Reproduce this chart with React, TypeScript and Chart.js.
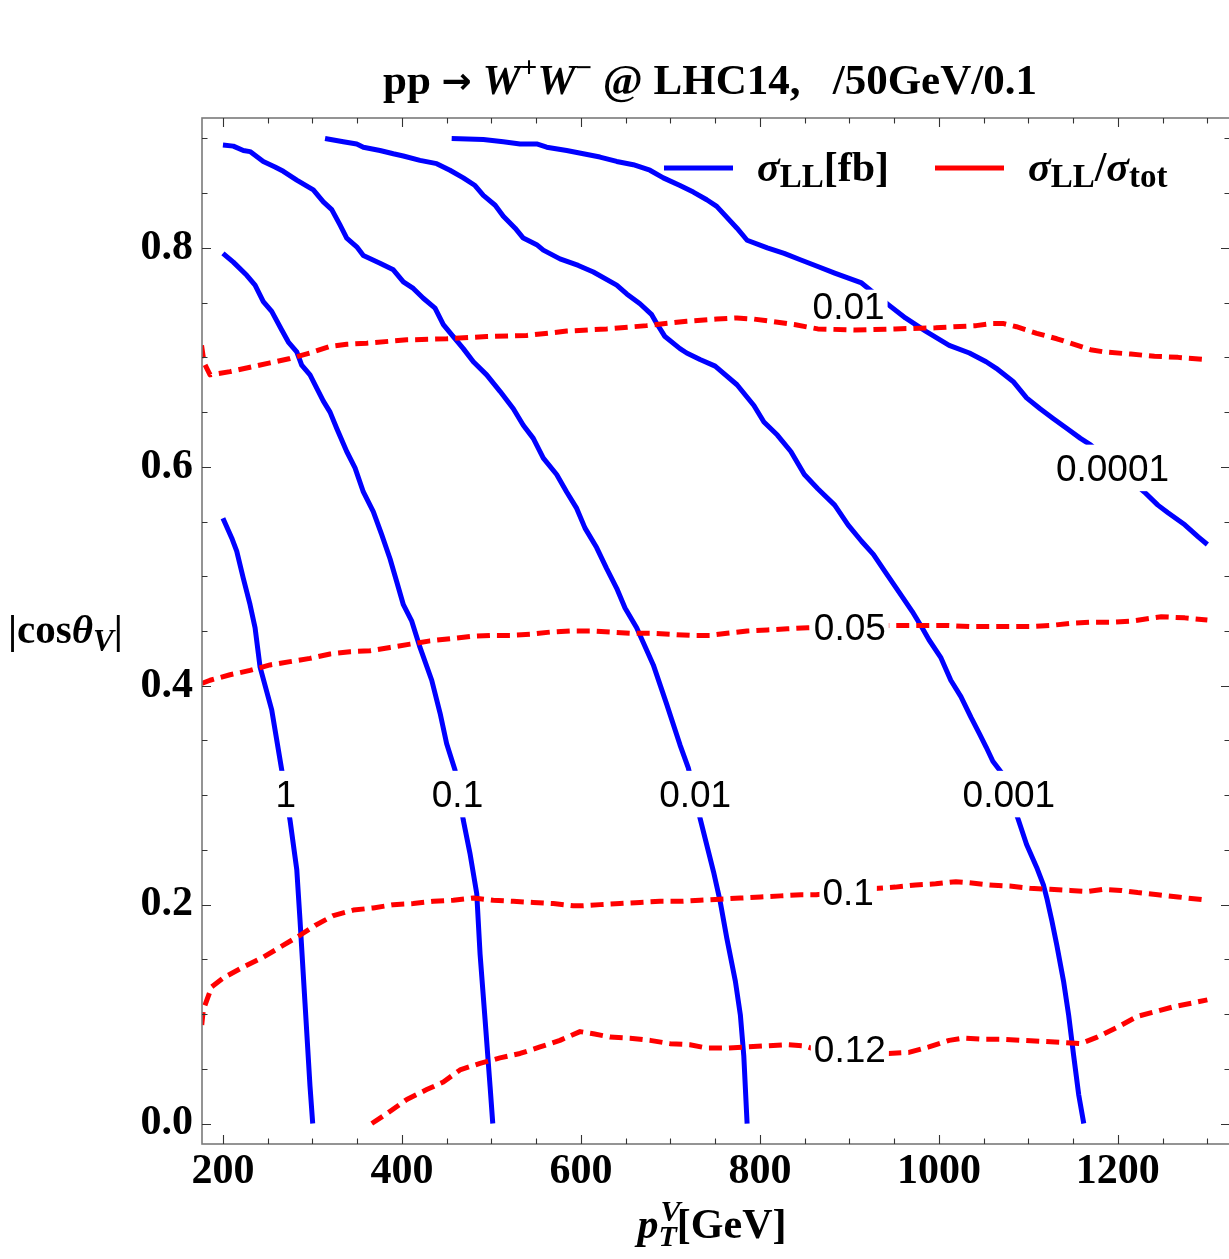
import { useEffect, useRef } from "react";
import { Chart, registerables } from "chart.js";

Chart.register(...registerables);

const SERIF = '"Liberation Serif", "Times New Roman", serif';
const SANS = '"Liberation Sans", Arial, sans-serif';
const ARROW_FONT = '"DejaVu Sans", sans-serif';
const BLUE = "#0000ff";
const RED = "#ff0000";

const CANVAS_W = 1240;
const CANVAS_H = 1259;

// Axis ranges (pT in GeV, |cos theta|)
const PT_MIN = 176.6;
const PT_MAX = 1325.3;
const COS_MIN = -0.0187;
const COS_MAX = 0.9187;

// Tick positions
const PT_MAJOR = [200, 400, 600, 800, 1000, 1200];
const PT_MINOR = [250, 300, 350, 450, 500, 550, 650, 700, 750, 850, 900, 950, 1050, 1100, 1150, 1250, 1300];
const COS_MAJOR = [0, 0.2, 0.4, 0.6, 0.8];
const COS_MINOR = [0.05, 0.1, 0.15, 0.25, 0.3, 0.35, 0.45, 0.5, 0.55, 0.65, 0.7, 0.75, 0.85, 0.9];

// sigma_LL contours [fb]
const LL1_PT = [200, 209.8, 215.4, 222.8, 230.3, 235.9, 241.5, 254.5, 265.7, 275.0, 282.5, 286.1, 291.7, 297.3, 300.3];
const LL1_COS = [0.553, 0.535, 0.523, 0.498, 0.474, 0.453, 0.417, 0.378, 0.323, 0.277, 0.232, 0.186, 0.110, 0.034, 0];

const LL01_PT = [200, 211.6, 226.6, 235.9, 245.1, 254.5, 265.7, 273.1, 282.5, 288.0, 297.3, 304.8, 312.2, 319.7, 327.2, 338.3, 347.6, 356.9, 368.0, 377.4, 386.7, 394.2, 401.6, 411.0, 420.2, 433.3, 442.6, 450.0, 459.3, 468.6, 476.0, 483.6, 487.3, 492.9, 498.5, 501.5];
const LL01_COS = [0.795, 0.787, 0.775, 0.766, 0.751, 0.742, 0.725, 0.714, 0.705, 0.693, 0.684, 0.672, 0.660, 0.650, 0.635, 0.614, 0.599, 0.577, 0.559, 0.538, 0.516, 0.495, 0.474, 0.459, 0.435, 0.405, 0.375, 0.347, 0.323, 0.277, 0.247, 0.210, 0.155, 0.095, 0.034, 0];

const LL001_PT = [200, 211.6, 222.8, 230.3, 245.1, 258.2, 267.5, 282.5, 301.0, 312.2, 321.6, 330.8, 338.3, 349.5, 356.9, 375.5, 390.4, 401.6, 412.7, 423.9, 437.0, 446.3, 457.4, 468.6, 479.8, 494.7, 509.6, 524.5, 535.6, 546.8, 558.0, 572.9, 584.1, 595.3, 604.6, 617.7, 628.8, 640.0, 649.3, 662.3, 680.9, 695.9, 710.7, 720.0, 733.1, 748.2, 755.6, 763.1, 772.6, 778.2, 782.0, 785.7];
const LL001_COS = [0.894, 0.893, 0.889, 0.888, 0.879, 0.874, 0.870, 0.862, 0.853, 0.842, 0.835, 0.821, 0.809, 0.801, 0.793, 0.786, 0.780, 0.769, 0.763, 0.754, 0.745, 0.730, 0.719, 0.708, 0.696, 0.684, 0.669, 0.653, 0.638, 0.626, 0.608, 0.593, 0.577, 0.562, 0.544, 0.526, 0.507, 0.489, 0.471, 0.453, 0.419, 0.383, 0.346, 0.325, 0.279, 0.230, 0.203, 0.169, 0.130, 0.099, 0.062, 0];

const LL0001_PT = [314.1, 334.5, 349.5, 356.9, 375.5, 390.4, 401.6, 420.2, 438.9, 453.7, 468.6, 481.7, 491.0, 504.2, 513.3, 526.5, 535.6, 550.6, 558.0, 576.6, 597.1, 613.9, 640.0, 651.2, 666.0, 679.1, 684.7, 693.9, 710.7, 718.2, 733.1, 750.0, 774.4, 793.3, 804.5, 819.5, 834.6, 849.7, 864.7, 883.6, 898.5, 913.6, 926.8, 940.0, 955.1, 970.1, 981.3, 988.9, 1002.0, 1013.3, 1024.6, 1035.9, 1045.4, 1052.8, 1060.3, 1069.7, 1088.6, 1098.0, 1109.3, 1116.8, 1120.6, 1126.3, 1131.8, 1139.3, 1145.0, 1150.6, 1156.3, 1161.9];
const LL0001_COS = [0.900, 0.897, 0.895, 0.892, 0.889, 0.886, 0.884, 0.880, 0.877, 0.871, 0.864, 0.857, 0.848, 0.839, 0.829, 0.818, 0.809, 0.803, 0.798, 0.790, 0.784, 0.778, 0.766, 0.758, 0.749, 0.739, 0.731, 0.719, 0.708, 0.704, 0.698, 0.692, 0.675, 0.656, 0.641, 0.629, 0.614, 0.593, 0.580, 0.565, 0.547, 0.532, 0.520, 0.504, 0.486, 0.468, 0.453, 0.442, 0.426, 0.405, 0.390, 0.371, 0.356, 0.344, 0.331, 0.321, 0.278, 0.255, 0.234, 0.218, 0.206, 0.185, 0.163, 0.130, 0.099, 0.062, 0.026, 0];

const LL00001_PT = [455.6, 491.0, 513.3, 532.0, 550.6, 561.8, 584.1, 602.7, 621.3, 640.0, 658.5, 677.1, 692.1, 710.7, 725.6, 740.6, 751.8, 774.4, 785.7, 808.3, 827.1, 845.9, 864.7, 883.6, 913.6, 943.8, 962.6, 985.1, 1011.5, 1034.1, 1052.8, 1064.1, 1082.9, 1098.0, 1113.1, 1128.0, 1143.1, 1158.2, 1169.5, 1229.6, 1244.7, 1256.0, 1274.8, 1289.8, 1300];
const LL00001_COS = [0.900, 0.899, 0.897, 0.895, 0.895, 0.892, 0.889, 0.886, 0.883, 0.879, 0.876, 0.871, 0.864, 0.857, 0.851, 0.844, 0.838, 0.818, 0.807, 0.800, 0.795, 0.789, 0.783, 0.777, 0.768, 0.748, 0.736, 0.724, 0.711, 0.704, 0.696, 0.690, 0.678, 0.663, 0.653, 0.644, 0.635, 0.626, 0.620, 0.577, 0.565, 0.558, 0.547, 0.536, 0.529];

// sigma_LL / sigma_tot contours
const R001_PT = [176.1, 178.9, 185.6, 208.0, 230.3, 252.6, 275.0, 297.3, 319.7, 338.3, 360.7, 405.4, 450.1, 494.8, 539.4, 584.1, 628.8, 673.5, 718.2, 751.8, 774.4, 793.3, 812.1, 838.4, 864.7, 906.2, 951.3, 996.4, 1041.6, 1060.3, 1071.6, 1086.7, 1109.3, 1131.8, 1146.9, 1169.5, 1184.5, 1214.6, 1240.9, 1267.3, 1300];
const R001_COS = [0.711, 0.695, 0.684, 0.687, 0.691, 0.695, 0.699, 0.704, 0.710, 0.712, 0.713, 0.716, 0.717, 0.719, 0.720, 0.724, 0.726, 0.729, 0.733, 0.735, 0.736, 0.735, 0.733, 0.730, 0.726, 0.725, 0.726, 0.727, 0.729, 0.731, 0.731, 0.728, 0.722, 0.717, 0.713, 0.707, 0.705, 0.703, 0.701, 0.700, 0.698];

const R005_PT = [176.3, 185.6, 207.9, 230.3, 252.6, 275.0, 297.3, 319.7, 342.0, 364.4, 386.7, 409.1, 431.4, 453.7, 476.1, 498.4, 520.8, 543.1, 565.5, 587.8, 610.2, 632.5, 654.9, 677.2, 699.6, 721.9, 744.2, 763.2, 785.7, 808.3, 830.8, 853.4, 943.8, 966.4, 988.9, 1011.5, 1034.1, 1056.6, 1079.2, 1101.8, 1124.3, 1146.9, 1169.5, 1192.0, 1214.6, 1248.5, 1274.8, 1300];
const R005_COS = [0.402, 0.405, 0.410, 0.414, 0.419, 0.422, 0.425, 0.429, 0.431, 0.432, 0.435, 0.438, 0.441, 0.443, 0.445, 0.446, 0.446, 0.447, 0.449, 0.450, 0.450, 0.449, 0.448, 0.448, 0.447, 0.446, 0.446, 0.448, 0.450, 0.451, 0.452, 0.453, 0.455, 0.455, 0.455, 0.455, 0.454, 0.454, 0.454, 0.454, 0.455, 0.457, 0.458, 0.458, 0.459, 0.463, 0.462, 0.460];

const R01_PT = [176.3, 178.1, 187.5, 200.4, 222.8, 245.1, 265.7, 286.1, 302.9, 323.4, 345.7, 368.0, 390.4, 412.7, 435.1, 457.4, 479.8, 502.1, 524.5, 546.8, 569.2, 591.5, 602.7, 621.3, 643.7, 666.0, 688.4, 710.7, 733.1, 755.6, 778.2, 800.8, 823.4, 845.9, 862.9, 932.5, 951.3, 973.9, 996.4, 1019.0, 1034.1, 1056.6, 1079.2, 1101.8, 1124.3, 1146.9, 1165.7, 1184.5, 1203.4, 1222.1, 1244.7, 1267.3, 1300];
const R01_COS = [0.090, 0.104, 0.125, 0.133, 0.143, 0.152, 0.162, 0.172, 0.181, 0.190, 0.195, 0.197, 0.200, 0.201, 0.203, 0.204, 0.206, 0.204, 0.203, 0.202, 0.201, 0.199, 0.199, 0.200, 0.201, 0.202, 0.203, 0.203, 0.204, 0.205, 0.206, 0.207, 0.208, 0.209, 0.209, 0.215, 0.216, 0.218, 0.219, 0.221, 0.220, 0.218, 0.217, 0.215, 0.214, 0.213, 0.212, 0.214, 0.213, 0.211, 0.209, 0.207, 0.204];

const R012_PT = [366.3, 383.0, 405.4, 427.7, 446.3, 464.9, 487.3, 509.6, 532.0, 554.3, 576.6, 599.0, 613.9, 632.5, 654.9, 677.2, 699.6, 721.9, 740.6, 763.1, 785.7, 808.3, 830.8, 849.7, 857.2, 943.8, 966.4, 988.9, 1011.5, 1026.5, 1049.1, 1071.6, 1094.2, 1116.8, 1139.3, 1158.2, 1176.9, 1199.5, 1222.1, 1240.9, 1263.5, 1282.4, 1300];
const R012_COS = [0, 0.009, 0.022, 0.031, 0.038, 0.049, 0.055, 0.060, 0.064, 0.070, 0.076, 0.084, 0.082, 0.079, 0.078, 0.076, 0.073, 0.072, 0.069, 0.069, 0.070, 0.071, 0.072, 0.071, 0.069, 0.064, 0.065, 0.070, 0.076, 0.078, 0.077, 0.077, 0.076, 0.075, 0.074, 0.073, 0.079, 0.088, 0.098, 0.102, 0.107, 0.110, 0.113];

// Contour labels
const LL_LABELS = ["1", "0.1", "0.01", "0.001", "0.0001"];
const LL_LABEL_PT = [270.3, 462.1, 727.7, 1078.2, 1194.0];
const LL_LABEL_COS = [0.301, 0.301, 0.301, 0.301, 0.599];
const RATIO_LABELS = ["0.01", "0.05", "0.1", "0.12"];
const RATIO_LABEL_PT = [899.1, 900.5, 898.6, 900.5];
const RATIO_LABEL_COS = [0.747, 0.454, 0.212, 0.0685];

const toPoints = (xs: number[], ys: number[]) => xs.map((x, i) => ({ x, y: ys[i] }));

type Seg = { t: string; size: number; italic?: boolean; dy?: number; dx?: number; advance?: boolean; family?: string };

const segFont = (s: Seg) => `${s.italic ? "italic " : ""}bold ${s.size}px ${s.family || SERIF}`;

function richWidth(ctx: CanvasRenderingContext2D, segs: Seg[]) {
  let w = 0;
  for (const s of segs) {
    ctx.font = segFont(s);
    if (s.advance !== false) w += ctx.measureText(s.t).width + (s.dx || 0);
  }
  return w;
}

function drawRich(ctx: CanvasRenderingContext2D, segs: Seg[], x: number, y: number) {
  let cx = x;
  ctx.textAlign = "left";
  ctx.textBaseline = "alphabetic";
  ctx.fillStyle = "#000";
  for (const s of segs) {
    ctx.font = segFont(s);
    ctx.fillText(s.t, cx + (s.dx || 0), y + (s.dy || 0));
    if (s.advance !== false) cx += ctx.measureText(s.t).width + (s.dx || 0);
  }
}

const TITLE: Seg[] = [
  { t: "pp ", size: 43 },
  { t: "\u2192", size: 36, family: ARROW_FONT, dy: -1 },
  { t: " ", size: 43 },
  { t: "W", size: 43, italic: true },
  { t: "+", size: 29, dy: -17 },
  { t: "W", size: 43, italic: true },
  { t: "\u2212", size: 29, dy: -17 },
  { t: " @ LHC14,\u2002 /50GeV/0.1", size: 43 },
];
const Y_TITLE: Seg[] = [
  { t: "|cos", size: 41 },
  { t: "\u03b8", size: 41, italic: true },
  { t: "V", size: 31, italic: true, dy: 8 },
  { t: "|", size: 41 },
];
const X_TITLE: Seg[] = [
  { t: "p", size: 42, italic: true },
  { t: "V", size: 30, italic: true, dy: -17, dx: 2, advance: false },
  { t: "T", size: 30, italic: true, dy: 8 },
  { t: "[GeV]", size: 42 },
];
const LEGEND_LL: Seg[] = [
  { t: "\u03c3", size: 42, italic: true },
  { t: "LL", size: 33, dy: 6 },
  { t: "[fb]", size: 42 },
];
const LEGEND_RATIO: Seg[] = [
  { t: "\u03c3", size: 42, italic: true },
  { t: "LL", size: 33, dy: 6 },
  { t: "/", size: 42 },
  { t: "\u03c3", size: 42, italic: true },
  { t: "tot", size: 33, dy: 6 },
];

const decorPlugin = {
  id: "contourDecor",
  afterDatasetsDraw(chart: any) {
    const ctx: CanvasRenderingContext2D = chart.ctx;
    const xs = chart.scales.x;
    const ys = chart.scales.y;
    const { left, right, top, bottom } = chart.chartArea;
    ctx.save();

    // contour labels with a white backing that interrupts the lines
    const labelSize = 37;
    const digitH = labelSize * 0.716;
    ctx.font = `${labelSize}px ${SANS}`;
    const drawLabel = (text: string, px: number, py: number, padX: number, padY: number) => {
      const w = ctx.measureText(text).width;
      ctx.fillStyle = "#fff";
      ctx.fillRect(px - w / 2 - padX, py - digitH / 2 - padY, w + 2 * padX, digitH + 2 * padY);
      ctx.fillStyle = "#000";
      ctx.textAlign = "center";
      ctx.textBaseline = "alphabetic";
      ctx.fillText(text, px, py + digitH / 2);
    };
    LL_LABELS.forEach((t, i) =>
      drawLabel(t, xs.getPixelForValue(LL_LABEL_PT[i]), ys.getPixelForValue(LL_LABEL_COS[i]), 3, 10)
    );
    RATIO_LABELS.forEach((t, i) =>
      drawLabel(t, xs.getPixelForValue(RATIO_LABEL_PT[i]), ys.getPixelForValue(RATIO_LABEL_COS[i]), 3, 3)
    );

    // frame
    ctx.strokeStyle = "#7a7a7a";
    ctx.lineWidth = 1.6;
    ctx.strokeRect(left, top, right - left, bottom - top);

    // inward ticks on all four sides
    ctx.strokeStyle = "#333";
    ctx.lineWidth = 1.1;
    const tickX = (v: number, len: number) => {
      const p = Math.round(xs.getPixelForValue(v)) + 0.5;
      ctx.beginPath();
      ctx.moveTo(p, bottom);
      ctx.lineTo(p, bottom - len);
      ctx.moveTo(p, top);
      ctx.lineTo(p, top + len);
      ctx.stroke();
    };
    const tickY = (v: number, len: number) => {
      const p = Math.round(ys.getPixelForValue(v)) + 0.5;
      ctx.beginPath();
      ctx.moveTo(left, p);
      ctx.lineTo(left + len, p);
      ctx.moveTo(right, p);
      ctx.lineTo(right - len, p);
      ctx.stroke();
    };
    PT_MAJOR.forEach((v) => tickX(v, 9));
    PT_MINOR.forEach((v) => tickX(v, 5.5));
    COS_MAJOR.forEach((v) => tickY(v, 9));
    COS_MINOR.forEach((v) => tickY(v, 5.5));
    ctx.restore();
  },
  afterDraw(chart: any) {
    const ctx: CanvasRenderingContext2D = chart.ctx;
    ctx.save();
    // title
    const tw = richWidth(ctx, TITLE);
    drawRich(ctx, TITLE, 710 - tw / 2, 94);
    // axis titles
    drawRich(ctx, Y_TITLE, 8, 643);
    const xw = richWidth(ctx, X_TITLE);
    drawRich(ctx, X_TITLE, 712 - xw / 2, 1238);

    // legend
    ctx.lineWidth = 4.8;
    ctx.strokeStyle = BLUE;
    ctx.beginPath();
    ctx.moveTo(664, 168);
    ctx.lineTo(733, 168);
    ctx.stroke();
    drawRich(ctx, LEGEND_LL, 757, 181);
    ctx.strokeStyle = RED;
    ctx.beginPath();
    ctx.moveTo(935, 168);
    ctx.lineTo(1004, 168);
    ctx.stroke();
    drawRich(ctx, LEGEND_RATIO, 1028, 181);
    ctx.restore();
  },
};

const lineSet = (pts: number[], cos: number[], color: string, dashed: boolean) => ({
  data: toPoints(pts, cos),
  showLine: true,
  borderColor: color,
  backgroundColor: color,
  borderWidth: 5,
  borderDash: dashed ? [13, 7] : [],
  borderCapStyle: "butt" as const,
  borderJoinStyle: "round" as const,
  pointRadius: 0,
  pointHoverRadius: 0,
  tension: 0,
});

export default function App() {
  const canvasRef = useRef<HTMLCanvasElement | null>(null);

  useEffect(() => {
    const canvas = canvasRef.current;
    if (!canvas) return;
    const tickFont = { family: SERIF, size: 42, weight: "bold" as const };
    const chart = new Chart(canvas, {
      type: "scatter",
      data: {
        datasets: [
          lineSet(R001_PT, R001_COS, RED, true),
          lineSet(R005_PT, R005_COS, RED, true),
          lineSet(R01_PT, R01_COS, RED, true),
          lineSet(R012_PT, R012_COS, RED, true),
          lineSet(LL1_PT, LL1_COS, BLUE, false),
          lineSet(LL01_PT, LL01_COS, BLUE, false),
          lineSet(LL001_PT, LL001_COS, BLUE, false),
          lineSet(LL0001_PT, LL0001_COS, BLUE, false),
          lineSet(LL00001_PT, LL00001_COS, BLUE, false),
        ],
      },
      options: {
        animation: false,
        responsive: false,
        maintainAspectRatio: false,
        devicePixelRatio: 1,
        events: [],
        layout: { padding: { left: 0, top: 118, right: CANVAS_W - 1230, bottom: 0 } },
        plugins: {
          legend: { display: false },
          tooltip: { enabled: false },
          title: { display: false },
        },
        scales: {
          x: {
            type: "linear",
            min: PT_MIN,
            max: PT_MAX,
            afterBuildTicks: (s: any) => {
              s.ticks = PT_MAJOR.map((v) => ({ value: v }));
            },
            afterFit: (s: any) => {
              s.height = CANVAS_H - 1144;
            },
            grid: { display: false, drawTicks: false },
            border: { display: false },
            ticks: {
              font: tickFont,
              color: "#000",
              padding: 3,
              maxRotation: 0,
              autoSkip: false,
              callback: (v: any) => String(v),
            },
          },
          y: {
            type: "linear",
            min: COS_MIN,
            max: COS_MAX,
            afterBuildTicks: (s: any) => {
              s.ticks = COS_MAJOR.map((v) => ({ value: v }));
            },
            afterFit: (s: any) => {
              s.width = 202;
            },
            grid: { display: false, drawTicks: false },
            border: { display: false },
            ticks: {
              font: tickFont,
              color: "#000",
              padding: 9,
              autoSkip: false,
              callback: (v: any) => Number(v).toFixed(1),
            },
          },
        },
      },
      plugins: [decorPlugin],
    });
    return () => chart.destroy();
  }, []);

  return (
    <div
      style={{
        position: "fixed",
        left: 0,
        top: 0,
        width: 1229,
        height: CANVAS_H,
        overflow: "hidden",
        background: "#fff",
      }}
    >
      <canvas ref={canvasRef} width={CANVAS_W} height={CANVAS_H} style={{ display: "block" }} />
    </div>
  );
}
